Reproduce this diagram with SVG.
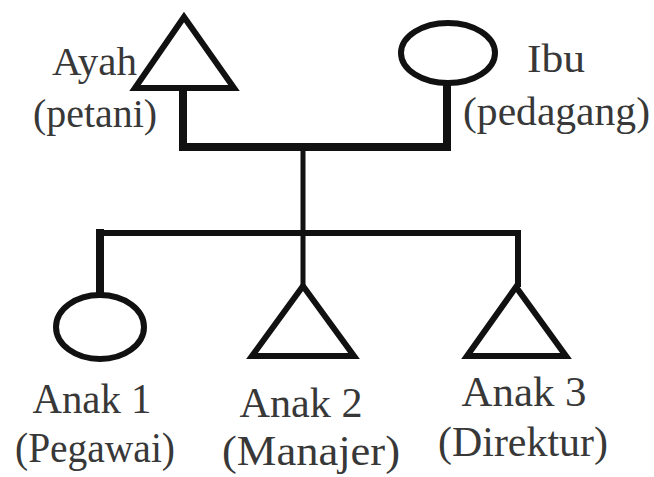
<svg xmlns="http://www.w3.org/2000/svg" width="654" height="477" viewBox="0 0 654 477">
<style>
.sym{fill:none;stroke:#111;stroke-width:6;stroke-linejoin:miter}
.ln{fill:none;stroke:#111;stroke-linejoin:miter;stroke-linecap:square}
.lbl{font-family:"Liberation Serif","Times New Roman",serif;fill:#383838}
.top{font-size:41px}
.bot{font-size:43px;text-anchor:middle}
</style>
<rect width="654" height="477" fill="#fff"/>
<g id="connectors">
<path class="ln" d="M183,90 V147 H447 V84" stroke-width="8"/>
<path class="ln" d="M303,147 V283" stroke-width="5"/>
<path class="ln" d="M100,233 H518" stroke-width="6"/>
<path class="ln" d="M100,233 V294" stroke-width="8"/>
<path class="ln" d="M518,233 V284" stroke-width="6"/>
</g>
<g id="ayah">
<polygon class="sym" points="184,17 135,88 234,88"/>
<text class="lbl top" x="52" y="75" textLength="85" lengthAdjust="spacingAndGlyphs">Ayah</text>
<text class="lbl top" x="33" y="127" textLength="124" lengthAdjust="spacingAndGlyphs">(petani)</text>
</g>
<g id="ibu">
<ellipse class="sym" cx="448" cy="53" rx="47" ry="30"/>
<text class="lbl top" x="527" y="72" textLength="58" lengthAdjust="spacingAndGlyphs">Ibu</text>
<text class="lbl top" x="463" y="125" textLength="187" lengthAdjust="spacingAndGlyphs">(pedagang)</text>
</g>
<g id="anak1">
<ellipse class="sym" cx="100" cy="327" rx="44" ry="32"/>
<text class="lbl bot" x="92" y="413" textLength="119" lengthAdjust="spacingAndGlyphs">Anak 1</text>
<text class="lbl bot" x="95" y="462" textLength="160" lengthAdjust="spacingAndGlyphs">(Pegawai)</text>
</g>
<g id="anak2">
<polygon class="sym" points="303,286 252,356 354,356"/>
<text class="lbl bot" x="301" y="417" textLength="123" lengthAdjust="spacingAndGlyphs">Anak 2</text>
<text class="lbl bot" x="311" y="465" textLength="178" lengthAdjust="spacingAndGlyphs">(Manajer)</text>
</g>
<g id="anak3">
<polygon class="sym" points="516,287 467,356 566,356"/>
<text class="lbl bot" x="524" y="406" textLength="125" lengthAdjust="spacingAndGlyphs">Anak 3</text>
<text class="lbl bot" x="523" y="456" textLength="170" lengthAdjust="spacingAndGlyphs">(Direktur)</text>
</g>
</svg>
